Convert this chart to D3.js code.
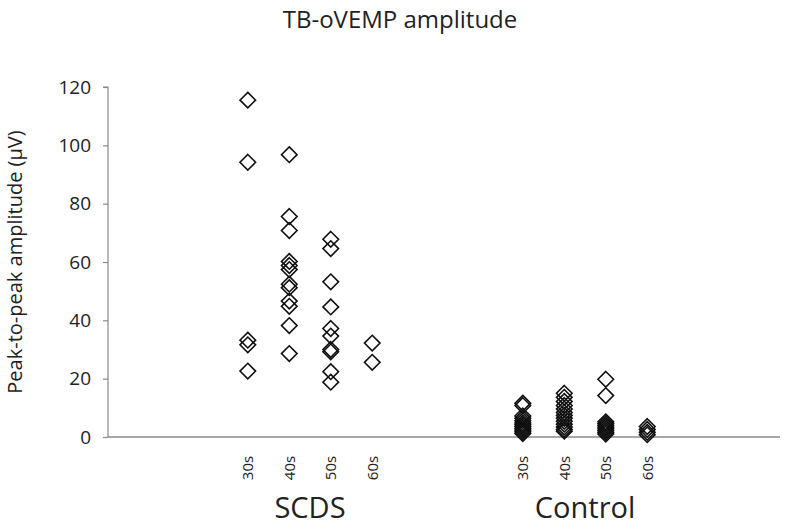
<!DOCTYPE html>
<html>
<head>
<meta charset="utf-8">
<script src="https://cdn.jsdelivr.net/npm/d3@7"></script>
<style>
  html, body { margin: 0; padding: 0; background: #fff; }
  svg { display: block; font-family: "Open Sans", "Noto Sans", sans-serif; }
</style>
</head>
<body>
<svg id="chart" width="800" height="529"></svg>
<script>
// ---- data ----
const groups = ["SCDS", "Control"];
const ageLabels = ["30s", "40s", "50s", "60s"];
const yTicks = [0, 20, 40, 60, 80, 100, 120];

// SCDS values by age decade (µV)
const scds30 = [115.5, 94.2, 33.2, 31.6, 22.6];
const scds40 = [96.8, 75.6, 70.8, 60.2, 58.8, 57.4, 52.4, 51.2, 46.6, 44.8, 38.2, 28.6];
const scds50 = [67.8, 64.6, 53.2, 44.6, 37.2, 34.6, 30.0, 29.2, 22.4, 18.8];
const scds60 = [32.2, 25.6];

// Control values by age decade (µV)
const ctrl30 = [11.6, 10.8, 7.2, 6.4, 5.6, 4.8, 4.2, 3.6, 3.0, 2.4, 1.8, 1.2];
const ctrl40 = [15.0, 13.6, 12.2, 10.8, 9.6, 8.4, 7.4, 6.4, 5.4, 4.4, 3.4, 2.6, 2.0];
const ctrl50 = [19.8, 14.2, 5.2, 4.6, 4.0, 3.4, 2.8, 2.2, 1.6, 1.0];
const ctrl60 = [3.6, 2.6, 1.6, 0.8];

// x slot positions of each age group within the category axis
const scdsSlots = [3.37, 4.37, 5.37, 6.37];
const ctrlSlots = [10.0, 11.0, 12.0, 13.0];
const groupCenters = [4.87, 11.5];

const seriesValues = [
  [scds30, scds40, scds50, scds60],
  [ctrl30, ctrl40, ctrl50, ctrl60]
];
const slots = [scdsSlots, ctrlSlots];

// ---- layout ----
const svg = d3.select("#chart");
const x = d3.scaleLinear().domain([0, 16.2]).range([108, 780]);
const y = d3.scaleLinear().domain([0, 120]).range([437, 87]);
const axisColor = "#8a8a8a";
const font = "'Open Sans', 'Noto Sans', sans-serif";

// title
svg.append("text")
  .attr("x", 400).attr("y", 28)
  .attr("text-anchor", "middle")
  .attr("font-size", 24).attr("fill", "#222")
  .text("TB-oVEMP amplitude");

// y axis
const yAxis = d3.axisLeft(y).tickValues(yTicks).tickSize(5).tickPadding(12);
const yg = svg.append("g").attr("transform", `translate(${x(0)},0)`).call(yAxis);
yg.attr("font-family", font).attr("font-size", 19);
yg.select(".domain").attr("stroke", axisColor).attr("stroke-width", 1.2)
  .attr("d", `M-5,${y(120)}H0V${y(0)}`);
yg.selectAll(".tick line").attr("stroke", axisColor).attr("stroke-width", 1.2);
yg.selectAll(".tick text").attr("fill", "#222");

// y axis title
svg.append("text")
  .attr("transform", `translate(22,${(y(0) + y(120)) / 2}) rotate(-90)`)
  .attr("text-anchor", "middle")
  .attr("font-size", 20).attr("fill", "#222")
  .text("Peak-to-peak amplitude (µV)");

// x axis line
svg.append("line")
  .attr("x1", x(0)).attr("x2", x(16.2))
  .attr("y1", y(0)).attr("y2", y(0))
  .attr("stroke", axisColor).attr("stroke-width", 1.4);

// age tick labels (rotated)
slots.forEach(s => {
  s.forEach((pos, i) => {
    svg.append("text")
      .attr("transform", `translate(${x(pos) + 5.5},${468}) rotate(-90)`)
      .attr("text-anchor", "middle")
      .attr("font-size", 15).attr("fill", "#222")
      .text(ageLabels[i]);
  });
});

// group labels
groups.forEach((g, i) => {
  svg.append("text")
    .attr("x", x(groupCenters[i])).attr("y", 518)
    .attr("text-anchor", "middle")
    .attr("font-size", 29).attr("fill", "#222")
    .text(g);
});

// markers
const r = 7.8;
const diamond = `M0,${-r}L${r},0L0,${r}L${-r},0Z`;
const points = [];
seriesValues.forEach((grp, gi) => {
  grp.forEach((vals, ai) => {
    vals.forEach(v => points.push({ pos: slots[gi][ai], v }));
  });
});
svg.append("g").selectAll("path")
  .data(points)
  .join("path")
  .attr("d", diamond)
  .attr("transform", d => `translate(${x(d.pos)},${y(d.v)})`)
  .attr("fill", "none")
  .attr("stroke", "#111")
  .attr("stroke-width", 1.6);
</script>
</body>
</html>
